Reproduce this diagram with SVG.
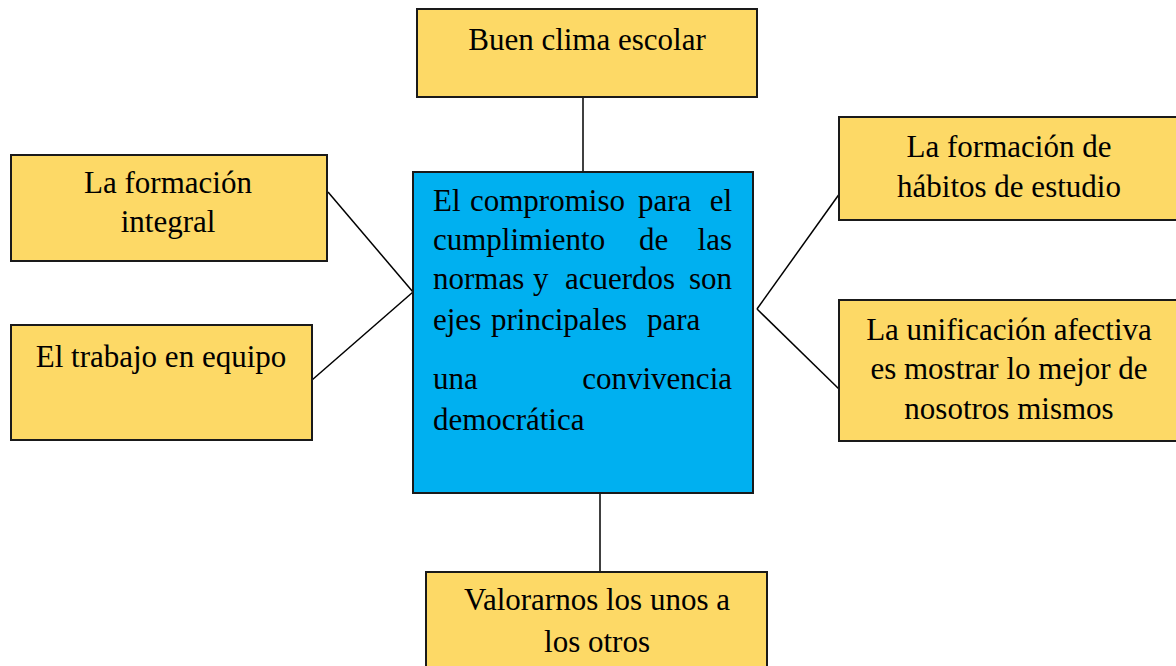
<svg xmlns="http://www.w3.org/2000/svg" width="1176" height="666" viewBox="0 0 1176 666">
<style>
.box{fill:#FDD966;stroke:#1a1a1a;stroke-width:2}
.center{fill:#00B0F0;stroke:#1a1a1a;stroke-width:2}
text{font-family:"Liberation Serif","Times New Roman",serif;font-size:31px;fill:#000}
.c{text-anchor:middle}
.e{text-anchor:end}
.conn line{stroke:#000;stroke-width:1.5}
</style>
<rect width="1176" height="666" fill="#fff"/>
<g class="conn" id="connectors">
<line x1="583" y1="97" x2="583" y2="172"/>
<line x1="600" y1="493" x2="600" y2="572"/>
<line x1="328" y1="192" x2="413" y2="292"/>
<line x1="312" y1="380" x2="413" y2="292"/>
<line x1="757" y1="309" x2="840" y2="193"/>
<line x1="757" y1="309" x2="840" y2="390"/>
</g>
<g id="n-top">
<rect class="box" x="417" y="9" width="340" height="88"/>
<text class="c" x="587" y="50">Buen clima escolar</text>
</g>
<g id="n-center">
<rect class="center" x="413" y="172" width="340" height="321"/>
<text x="433" y="211">El</text><text x="470" y="211">compromiso</text><text x="638" y="211">para</text><text class="e" x="732" y="211">el</text>
<text x="433" y="250">cumplimiento</text><text x="639" y="250">de</text><text class="e" x="732" y="250">las</text>
<text x="433" y="289">normas</text><text x="533" y="289">y</text><text x="565" y="289">acuerdos</text><text class="e" x="732" y="289">son</text>
<text x="433" y="330">ejes</text><text x="491" y="330">principales</text><text x="647" y="330">para</text>
<text x="433" y="389">una</text><text class="e" x="732" y="389">convivencia</text>
<text x="433" y="430">democrática</text>
</g>
<g id="n-left1">
<rect class="box" x="11" y="155" width="316" height="106"/>
<text class="c" x="168" y="193">La formación</text>
<text class="c" x="168" y="232">integral</text>
</g>
<g id="n-left2">
<rect class="box" x="11" y="325" width="301" height="115"/>
<text class="c" x="161" y="367">El trabajo en equipo</text>
</g>
<g id="n-right1">
<rect class="box" x="839" y="117" width="345" height="103"/>
<text class="c" x="1009" y="157">La formación de</text>
<text class="c" x="1009" y="197">hábitos de estudio</text>
</g>
<g id="n-right2">
<rect class="box" x="839" y="300" width="345" height="141"/>
<text class="c" x="1009" y="340">La unificación afectiva</text>
<text class="c" x="1009" y="379">es mostrar lo mejor de</text>
<text class="c" x="1009" y="419">nosotros mismos</text>
</g>
<g id="n-bottom">
<rect class="box" x="426" y="572" width="341" height="110"/>
<text class="c" x="597" y="610">Valorarnos los unos a</text>
<text class="c" x="597" y="652">los otros</text>
</g>
</svg>
